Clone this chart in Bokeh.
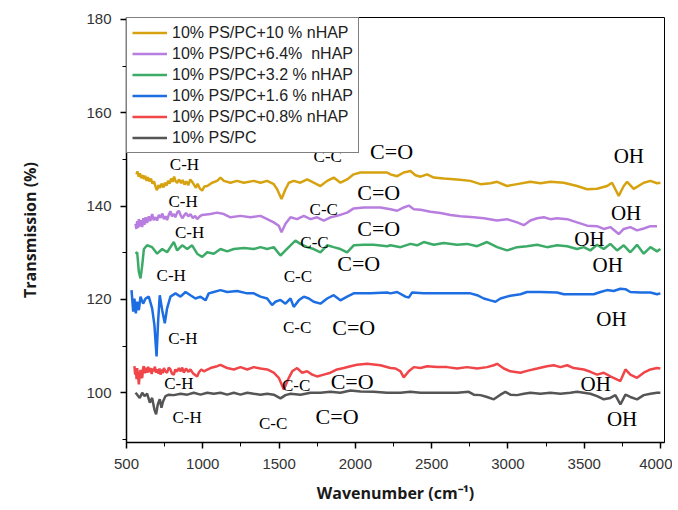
from bokeh.plotting import figure
from bokeh.models import Range1d, SingleIntervalTicker, Legend, LegendItem
from bokeh.core.properties import value
from bokeh.embed import file_html
from bokeh.resources import INLINE

# ---------------- data ----------------
series_names = ["10% PS/PC+10 % nHAP", "10% PS/PC+6.4%  nHAP", "10% PS/PC+3.2 % nHAP",
                "10% PS/PC+1.6 % nHAP", "10% PS/PC+0.8% nHAP", "10% PS/PC"]

gold_x = [565, 572, 580, 588, 596, 605, 614, 622, 632, 640, 650, 660, 670, 680, 690, 700, 710, 720,
          730, 742, 752, 762, 772, 782, 792, 802, 812, 822, 832, 845, 858, 868, 880, 892, 905, 918,
          930, 942, 955, 966, 980, 996, 1010,
          1029, 1061, 1094, 1116, 1138, 1181, 1225, 1269, 1334, 1378, 1422, 1465, 1487, 1516, 1542,
          1564, 1596, 1640, 1684, 1727, 1771, 1815, 1858, 1902, 1946, 1989, 2033, 2120, 2208,
          2230, 2274, 2317, 2361, 2394, 2427, 2470, 2514, 2579, 2667, 2754, 2820, 2885, 2929, 2994,
          3060, 3147, 3213, 3278, 3366, 3453, 3519, 3584, 3650, 3682, 3726, 3759, 3781, 3824, 3890,
          3934, 3977, 3999]
gold_y = [146.8, 147.4, 146.3, 147.0, 146.0, 146.6, 145.8, 146.5, 145.4, 146.2, 145.3, 145.9, 144.8,
          145.3, 144.2, 143.4, 144.5, 143.9, 144.8, 144.0, 145.0, 144.4, 145.4, 144.8, 145.9, 145.2,
          146.3, 145.3, 145.0, 145.7, 144.9, 145.6, 144.6, 145.3, 144.5, 145.7, 145.2, 144.6, 143.9,
          144.8, 143.8, 143.3, 144.2,
          144.3, 145.0, 145.4, 146.1, 145.4, 145.0, 145.4, 145.0, 145.4, 145.0, 145.4, 144.7,
          143.6, 141.5, 143.6, 145.0, 145.4, 145.0, 145.7, 145.0, 144.3, 145.4, 146.1, 145.0,
          145.7, 146.8, 147.2, 147.2, 147.2,
          146.8, 146.4, 147.2, 147.5, 146.6, 146.3, 146.8, 146.1, 145.9, 145.7, 145.4, 144.7, 144.9,
          145.2, 144.3, 144.7, 145.2, 144.9, 145.2, 145.0, 144.3, 143.6, 143.7, 144.3, 145.0, 142.2,
          144.3, 145.2, 143.7, 145.0, 145.4, 144.9, 145.0]

purple_x = [559, 565, 570, 576, 581, 588, 595, 603, 610, 618, 625, 635, 646, 656, 668, 678, 690, 700,
            712, 723, 735, 745, 756, 766, 778, 788, 798, 810, 820, 832, 843, 855, 866, 876, 890, 905,
            919, 935, 950, 963, 980, 996,
            1050, 1094, 1138, 1181, 1247, 1312, 1378, 1422, 1465, 1498, 1516, 1542, 1575, 1618,
            1662, 1706, 1749, 1793, 1837, 1880, 1946, 1989, 2055, 2164,
            2230, 2274, 2317, 2350, 2383, 2427, 2492, 2558, 2623, 2689, 2776, 2842, 2929, 2994,
            3060, 3104, 3147, 3191, 3235, 3278, 3322, 3388, 3453, 3519, 3584, 3628, 3671, 3726,
            3759, 3802, 3846, 3890, 3934, 3977]
purple_y = [136.2, 135.1, 136.8, 135.3, 137.2, 135.6, 137.0, 135.5, 137.4, 136.0, 137.6, 136.4,
            137.8, 136.8, 138.3, 137.0, 137.6, 136.9, 138.1, 137.5, 138.4, 137.2, 137.8, 137.0,
            138.2, 138.9, 137.8, 138.3, 137.6, 138.6, 139.0, 138.0, 137.4, 137.9, 138.5, 137.8,
            138.3, 137.4, 137.9, 137.2, 137.8, 138.1,
            138.3, 138.6, 138.3, 137.6, 137.9, 137.6, 137.9, 137.2, 136.5, 135.8, 134.4, 136.2,
            137.6, 137.2, 137.9, 137.2, 137.6, 136.9, 137.6, 137.9, 138.6, 139.5, 139.7, 139.7,
            139.3, 139.0, 139.7, 140.1, 139.3, 139.2, 138.8, 138.5, 138.1, 137.8, 137.6, 137.4,
            136.9, 137.2, 136.5, 135.9, 136.9, 137.4, 137.6, 137.2, 137.4, 137.2, 136.5, 135.8,
            135.7, 135.1, 135.5, 134.0, 135.1, 135.5, 134.8, 135.2, 135.7, 135.7]

green_x = [559, 570, 581, 592, 603, 614, 635, 668, 701, 734, 766, 788, 810, 832, 865, 898, 930, 963,
           996, 1029, 1072, 1116, 1160, 1203, 1269, 1334, 1378, 1422, 1465, 1509, 1542, 1575, 1607,
           1640, 1684, 1727, 1771, 1815, 1858, 1902, 1946, 1989, 2055, 2120, 2208,
           2230, 2296, 2361, 2405, 2448, 2514, 2579, 2667, 2732, 2798, 2863, 2929, 2994, 3060,
           3125, 3191, 3256, 3322, 3388, 3453, 3497, 3540, 3584, 3628, 3671, 3715, 3759, 3802,
           3846, 3890, 3934, 3977, 3999]
green_y = [129.8, 130.1, 125.9, 124.5, 127.3, 130.8, 131.6, 131.2, 129.8, 130.8, 130.1, 131.2,
           132.3, 130.5, 131.6, 130.8, 131.6, 129.8, 129.1, 130.1, 129.8, 130.8, 130.3, 130.8,
           131.0, 130.8, 131.2, 130.8, 131.2, 129.4, 130.5, 131.6, 132.6, 131.9, 131.2, 130.8,
           130.1, 131.6, 131.2, 130.8, 130.1, 131.6, 131.7, 131.7, 131.4,
           131.6, 131.2, 131.9, 131.6, 132.3, 131.7, 132.1, 131.7, 131.9, 131.4, 132.3, 131.2,
           130.5, 131.2, 131.4, 131.7, 131.2, 131.6, 131.4, 130.8, 131.2, 130.5, 131.7, 130.8,
           131.9, 130.5, 131.6, 130.1, 131.7, 129.8, 131.2, 130.3, 130.8]

blue_x = [533, 544, 552, 561, 570, 581, 592, 609, 625, 646, 668, 683, 697, 707, 718, 734, 751, 766,
          788, 821, 854, 887, 919, 952, 985, 1018, 1039, 1072, 1116, 1160, 1225, 1291, 1334, 1378,
          1422, 1454, 1476, 1509, 1542, 1575, 1596, 1629, 1662, 1695, 1727, 1771, 1815, 1858, 1902,
          1946, 1989, 2099, 2208,
          2230, 2274, 2328, 2350, 2372, 2448, 2558, 2667, 2754, 2798, 2842, 2885, 2918, 2951,
          3016, 3082, 3125, 3213, 3322, 3366, 3453, 3562, 3606, 3650, 3693, 3737, 3770, 3802,
          3868, 3934, 3977, 3999]
blue_y = [122.0, 117.4, 120.2, 117.0, 119.5, 117.7, 120.6, 119.1, 120.2, 120.6, 118.1, 114.5, 107.8,
          115.2, 120.9, 117.7, 114.9, 118.1, 120.6, 121.3, 120.6, 121.6, 120.9, 120.2, 120.6, 119.8,
          121.3, 121.6, 122.0, 121.6, 121.8, 121.3, 121.3, 120.6, 120.2, 118.8, 119.5, 119.9, 119.1,
          120.2, 118.4, 119.8, 120.6, 120.2, 119.5, 119.1, 120.2, 120.9, 119.8, 120.6, 121.3, 121.3,
          121.5,
          121.3, 121.6, 120.6, 120.4, 121.5, 121.3, 121.3, 121.3, 121.3, 120.9, 120.2, 119.8,
          119.5, 120.2, 120.8, 121.1, 121.6, 121.6, 121.5, 121.1, 121.1, 121.1, 121.6, 122.0,
          121.8, 122.3, 122.2, 121.6, 121.5, 121.5, 121.1, 121.3]

red_x = [552, 557, 561, 566, 570, 576, 581, 587, 592, 598, 603, 609, 614, 620, 626, 635, 642, 650,
         657, 665, 672, 679, 686, 694, 701, 710, 716, 723, 732, 738, 745, 755, 766, 777, 788, 798,
         810, 820, 830, 843, 855, 865, 876, 890, 905, 919, 935, 950, 963, 975, 990, 1007,
         1050, 1094, 1116, 1160, 1203, 1247, 1291, 1334, 1378, 1422, 1465, 1498,
         1531, 1564, 1586, 1618, 1651, 1684, 1717, 1749, 1793, 1837, 1880, 1924, 1968, 2011, 2077,
         2164,
         2230, 2263, 2296, 2317, 2350, 2383, 2427, 2470, 2536, 2601, 2667, 2732, 2798, 2863,
         2907, 2929, 2973, 3016, 3082, 3125, 3191, 3256, 3300, 3344, 3388, 3431, 3497, 3540,
         3584, 3628, 3671, 3737, 3770, 3802, 3846, 3890, 3934, 3977, 3999]
red_y = [105.7, 103.9, 105.2, 102.9, 105.3, 103.5, 101.8, 104.0, 104.9, 103.4, 103.2, 105.3, 105.7,
         104.2, 105.4, 104.3, 105.6, 104.4, 105.3, 104.0, 105.2, 104.6, 105.6, 104.3, 105.0, 104.1,
         105.2, 103.9, 105.0, 104.2, 105.3, 104.6, 104.3, 105.4, 105.0, 104.1, 103.9, 105.0, 104.5,
         105.3, 104.6, 105.4, 104.3, 105.2, 104.5, 105.0, 104.2, 103.8, 103.5, 104.4, 105.0, 104.6,
         105.3, 105.7, 106.0, 105.3, 105.0, 105.5, 105.0, 105.5, 105.2, 105.0, 104.3, 103.2,
         100.7, 103.2, 104.6, 105.3, 104.3, 104.6, 103.9, 103.5, 103.9, 104.3, 105.0, 105.3,
         105.7, 106.0, 106.2, 105.9,
         105.3, 105.2, 104.6, 103.3, 104.6, 105.5, 105.3, 105.7, 105.5, 105.5, 105.2, 105.5,
         105.2, 105.5, 105.9, 106.2, 105.2, 104.6, 104.3, 104.7, 105.2, 105.7, 105.9, 105.5,
         105.9, 105.3, 105.0, 104.5, 103.9, 104.3, 103.5, 102.5, 105.0, 103.9, 103.2, 104.3,
         105.0, 105.3, 105.2]

gray_x = [559, 570, 587, 603, 618, 635, 653, 668, 683, 694, 705, 718, 729, 740, 756, 777, 810, 854,
          898, 941, 985, 1029, 1072, 1116, 1160, 1203, 1247, 1291, 1334, 1378, 1422, 1465, 1509,
          1542, 1575, 1640, 1706, 1771, 1837, 1902, 1968, 2033, 2120, 2208,
          2230, 2296, 2361, 2427, 2492, 2579, 2667, 2743, 2776, 2820, 2863, 2907, 2951, 2983,
          3016, 3060, 3104, 3147, 3213, 3278, 3344, 3409, 3453, 3497, 3540, 3584, 3628, 3671,
          3704, 3737, 3770, 3802, 3846, 3890, 3934, 3977, 3999]
gray_y = [100.0, 99.6, 98.9, 100.0, 99.3, 99.8, 97.9, 98.9, 96.4, 95.4, 97.5, 98.6, 96.8, 98.2, 99.3,
          99.6, 99.5, 99.8, 99.6, 100.0, 99.6, 100.0, 99.8, 100.0, 99.6, 100.0, 99.6, 100.0, 99.8,
          99.6, 99.8, 99.6, 98.8, 99.5, 99.8, 99.6, 100.0, 100.0, 100.2, 100.0, 100.5, 100.3,
          100.2, 100.0,
          100.0, 100.0, 100.2, 100.0, 100.0, 100.0, 100.0, 100.2, 99.6, 99.5, 99.1, 98.6, 99.6,
          100.2, 99.6, 99.5, 99.8, 100.0, 99.8, 100.0, 99.8, 100.0, 100.2, 100.0, 99.8, 99.3,
          98.6, 98.9, 99.5, 97.5, 99.6, 99.1, 98.6, 99.5, 99.8, 100.0, 100.0]

# band annotations (wavenumber, transmission)
ch_x = [880, 871, 913, 793, 869, 843, 897]
ch_y = [148.9, 140.9, 134.4, 125.2, 111.7, 101.9, 94.7]
cc_x = [1819, 1793, 1732, 1623, 1618, 1612, 1461]
cc_y = [150.6, 139.2, 132.3, 125.0, 113.9, 101.6, 93.5]
co_x = [2237, 2153, 2153, 2022, 1989, 1979, 1880]
co_y = [151.7, 142.9, 135.1, 127.7, 113.9, 102.5, 95.0]
oh_x = [3792, 3774, 3534, 3654, 3678, 3575, 3748]
oh_y = [150.8, 138.6, 133.0, 127.3, 115.8, 101.9, 94.3]

colors = ["#D6A20F", "#B87EDF", "#3CAB68", "#1D6EE2", "#F04549", "#555555"]

# ---------------- figure ----------------
W, H = 672, 506
p = figure(width=W, height=H, output_backend="svg", toolbar_location=None,
           x_range=Range1d(500, 4026), y_range=Range1d(89.35, 180.4),
           min_border_left=126, min_border_right=W - 664, min_border_top=17,
           min_border_bottom=H - 445)
p.background_fill_color = "white"
p.border_fill_color = "white"
p.outline_line_color = "black"
p.outline_line_width = 1
p.xgrid.visible = False
p.ygrid.visible = False

xs = [gold_x, purple_x, green_x, blue_x, red_x, gray_x]
ys = [gold_y, purple_y, green_y, blue_y, red_y, gray_y]
items = []
for name, x, y, c in zip(series_names, xs, ys, colors):
    r = p.line(x, y, line_color=c, line_width=2.5)
    items.append(LegendItem(label=name, renderers=[r]))

legend = Legend(items=items, location="top_left", margin=0, padding=5, spacing=2,
                label_height=19, glyph_height=19, glyph_width=35, label_standoff=5,
                border_line_color="black", border_line_width=1, background_fill_alpha=1,
                label_text_font="Liberation Sans", label_text_font_size="16px",
                label_text_color="#222222")
p.add_layout(legend)

serif = value("Liberation Serif")
p.text(ch_x, ch_y, text=value("C-H"), text_font=serif, text_font_size="17px",
       text_align="center", text_baseline="middle", text_color="black")
p.text(cc_x, cc_y, text=value("C-C"), text_font=serif, text_font_size="17px",
       text_align="center", text_baseline="middle", text_color="black")
p.text(co_x, co_y, text=value("C=O"), text_font=serif, text_font_size="22px",
       text_align="center", text_baseline="middle", text_color="black")
p.text(oh_x, oh_y, text=value("OH"), text_font=serif, text_font_size="21px",
       text_align="center", text_baseline="middle", text_color="black")

# axes
p.xaxis.ticker = SingleIntervalTicker(interval=500, num_minor_ticks=2)
p.yaxis.ticker = SingleIntervalTicker(interval=20, num_minor_ticks=2)
for ax in (p.xaxis[0], p.yaxis[0]):
    ax.axis_line_color = "black"
    ax.axis_line_width = 1.5
    ax.major_tick_line_color = "black"
    ax.minor_tick_line_color = "black"
    ax.major_tick_line_width = 1.5
    ax.minor_tick_line_width = 1
    ax.major_tick_out = 6
    ax.major_tick_in = 0
    ax.minor_tick_out = 4
    ax.minor_tick_in = 0
    ax.major_label_text_font = "Liberation Sans"
    ax.major_label_text_font_size = "15px"
    ax.major_label_text_color = "#333333"
    ax.axis_label_text_font = "Open Sans"
    ax.axis_label_text_font_style = "bold"
    ax.axis_label_text_font_size = "16px"
    ax.axis_label_text_color = "#1a1a1a"

p.xaxis.axis_label = "Wavenumber (cm\u207b\u00b9)"
p.yaxis.axis_label = "Transmission (%)"
p.xaxis.major_label_standoff = 10
p.xaxis.axis_label_standoff = 10
p.yaxis.major_label_standoff = 9
p.yaxis.axis_label_standoff = 42

open("out.html", "w").write(file_html(p, INLINE))
